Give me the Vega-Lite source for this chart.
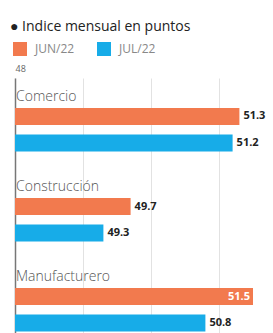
{
  "$schema": "https://vega.github.io/schema/vega-lite/v6.json",
  "autosize": {"type": "none"},
  "width": 272,
  "height": 290,
  "padding": {"left": 15, "top": 78, "right": 0, "bottom": 0},
  "background": "white",
  "title": {"text": "● Indice mensual en puntos", "anchor": "start", "orient": "top", "font": "Open Sans", "fontSize": 14, "fontWeight": "normal", "color": "#222", "dx": -3, "offset": 8},
  "config": {"view": {"stroke": null}, "font": "Open Sans"},
  "data": {"values": [
    {"sector": "Comercio", "serie": "JUN/22", "valor": 51.3},
    {"sector": "Comercio", "serie": "JUL/22", "valor": 51.2},
    {"sector": "Construcción", "serie": "JUN/22", "valor": 49.7},
    {"sector": "Construcción", "serie": "JUL/22", "valor": 49.3},
    {"sector": "Manufacturero", "serie": "JUN/22", "valor": 51.5},
    {"sector": "Manufacturero", "serie": "JUL/22", "valor": 50.8}
  ]},
  "encoding": {
    "y": {"field": "sector", "type": "nominal", "sort": ["Comercio", "Construcción", "Manufacturero"], "scale": {"paddingInner": 0, "paddingOuter": 0.111}, "axis": {"title": null, "labels": false, "ticks": false, "grid": false, "domain": true, "domainColor": "#777", "domainWidth": 1.5}},
    "x": {"field": "valor", "type": "quantitative", "scale": {"domain": [48, 52], "zero": false, "nice": false}, "axis": {"orient": "top", "title": null, "domain": false, "ticks": false, "grid": true, "gridColor": "#e2e2e2", "values": [48, 49, 50, 51, 52], "labelExpr": "datum.value == 48 || datum.value == 52 ? datum.label : ''", "labelFlush": true, "labelFontSize": 9, "labelColor": "#666", "labelPadding": 5}}
  },
  "layer": [
    {
      "mark": {"type": "bar"},
      "encoding": {
        "yOffset": {"field": "serie", "type": "nominal", "sort": ["JUN/22", "JUL/22"], "scale": {"range": [20, 63.5], "paddingInner": 0.358, "paddingOuter": 0}},
        "x2": {"datum": 48},
        "color": {"field": "serie", "type": "nominal", "sort": ["JUN/22", "JUL/22"], "scale": {"domain": ["JUN/22", "JUL/22"], "range": ["#F27A4E", "#17ACE8"]}, "legend": {"orient": "none", "legendX": -2, "legendY": -36, "direction": "horizontal", "title": null, "symbolType": "square", "symbolSize": 196, "symbolStrokeWidth": 0, "symbolOpacity": 1, "labelFontSize": 12, "labelColor": "#888", "labelOffset": 8, "columnPadding": 22}}
      }
    },
    {
      "transform": [{"filter": "datum.valor < 51.4"}],
      "mark": {"type": "text", "align": "left", "baseline": "middle", "dx": 4, "fontWeight": "bold", "fontSize": 11, "color": "#222"},
      "encoding": {
        "yOffset": {"field": "serie", "type": "nominal", "sort": ["JUN/22", "JUL/22"]},
        "text": {"field": "valor", "type": "quantitative", "format": ".1f"}
      }
    },
    {
      "transform": [{"filter": "datum.valor >= 51.4"}],
      "mark": {"type": "text", "align": "right", "baseline": "middle", "dx": -3, "fontWeight": "bold", "fontSize": 11, "color": "white"},
      "encoding": {
        "yOffset": {"field": "serie", "type": "nominal", "sort": ["JUN/22", "JUL/22"]},
        "text": {"field": "valor", "type": "quantitative", "format": ".1f"}
      }
    },
    {
      "transform": [{"filter": "datum.serie == 'JUN/22'"}],
      "mark": {"type": "text", "align": "left", "baseline": "middle", "dx": 1, "dy": 9, "fontSize": 14, "fontWeight": 300, "color": "#555"},
      "encoding": {
        "y": {"field": "sector", "type": "nominal", "sort": ["Comercio", "Construcción", "Manufacturero"], "bandPosition": 0},
        "x": {"datum": 48},
        "text": {"field": "sector"}
      }
    }
  ]
}
